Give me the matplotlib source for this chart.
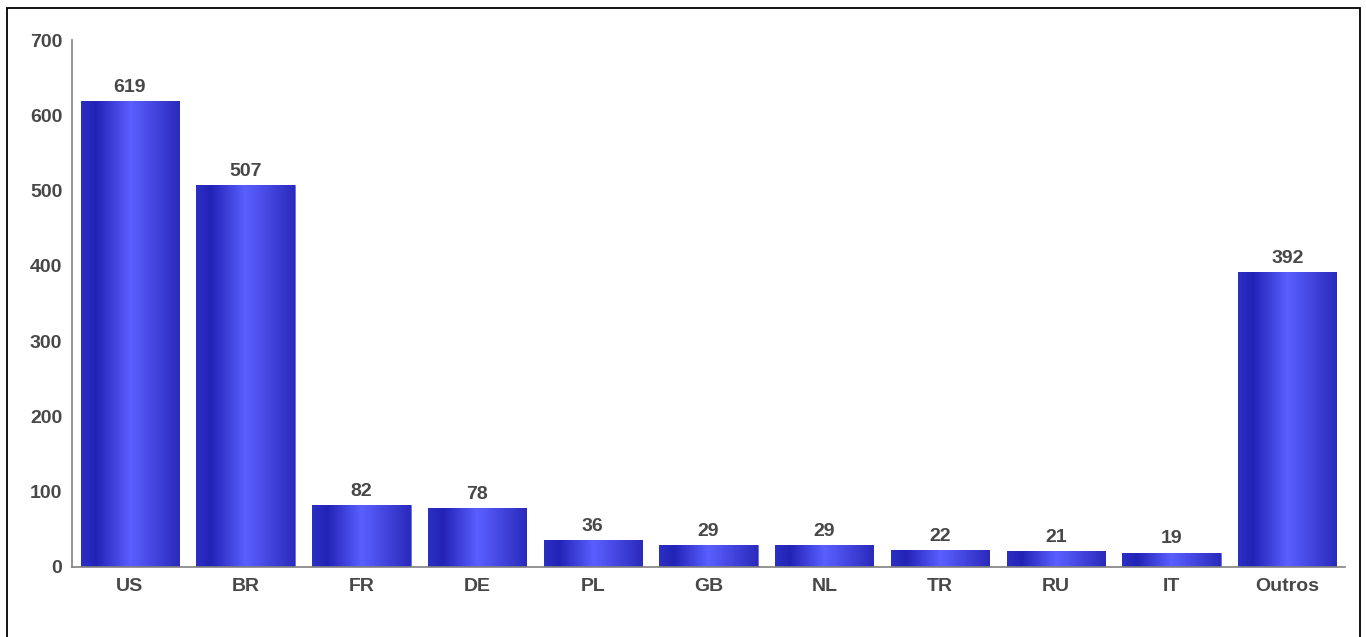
import numpy as np
import matplotlib.pyplot as plt
from matplotlib.colors import LinearSegmentedColormap
from matplotlib.patches import Rectangle

# data
countries = ['US', 'BR', 'FR', 'DE', 'PL', 'GB', 'NL', 'TR', 'RU', 'IT', 'Outros']
counts = [619, 507, 82, 78, 36, 29, 29, 22, 21, 19, 392]

text_color = '#484848'
font = 'Liberation Sans'

fig = plt.figure(figsize=(13.66, 6.37), dpi=100)
ax = fig.add_axes([0.0527, 0.1099, 0.932, 0.8273])

# outer frame
fig.patches.append(Rectangle((7 / 1366, -0.05), 1353 / 1366, 1 - 8 / 637 + 0.05,
                             transform=fig.transFigure, fill=False,
                             edgecolor='black', linewidth=1.3))

x = np.arange(len(countries))
bars = ax.bar(x, counts, width=0.85, color='#3a3fd8', edgecolor='#6a6af0', linewidth=0.6)

# horizontal gradient inside every bar
cmap = LinearSegmentedColormap.from_list('bar', [
    (0.0, '#2c30c4'), (0.15, '#2222b6'), (0.5, '#5a5fff'), (1.0, '#2a2abc')])
grad = np.linspace(0, 1, 256).reshape(1, -1)
for b in bars:
    x0, w, h = b.get_x(), b.get_width(), b.get_height()
    im = ax.imshow(grad, cmap=cmap, aspect='auto', extent=[x0, x0 + w, 0, h],
                   zorder=b.get_zorder(), interpolation='bicubic')
    im.set_clip_path(b)

for xi, v in zip(x, counts):
    ax.text(xi, v + 7, str(v), ha='center', va='bottom', fontsize=14,
            color=text_color, family=font, fontweight='bold')

ax.set_xlim(-0.5, 10.5)
ax.set_ylim(0, 700)
ax.set_yticks(range(0, 701, 100))
ax.set_xticks(x)
ax.set_xticklabels(countries)
for lbl in ax.get_xticklabels() + ax.get_yticklabels():
    lbl.set_family(font)
    lbl.set_fontsize(14)
    lbl.set_fontweight('bold')
    lbl.set_color(text_color)
ax.tick_params(length=0)
ax.tick_params(axis='x', pad=8)
ax.tick_params(axis='y', pad=7)

ax.spines['top'].set_visible(False)
ax.spines['right'].set_visible(False)
ax.spines['left'].set_color('#808080')
ax.spines['bottom'].set_color('#808080')
ax.spines['left'].set_linewidth(1.2)
ax.spines['bottom'].set_linewidth(1.2)

fig.savefig('out.png', dpi=100)
